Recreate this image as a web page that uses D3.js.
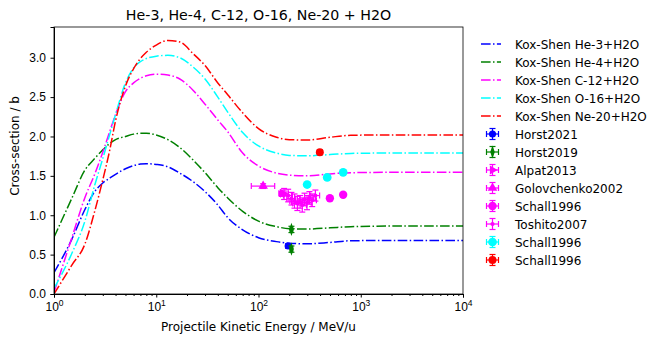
<!DOCTYPE html>
<html>
<head>
<meta charset="utf-8">
<script src="https://cdn.jsdelivr.net/npm/d3@7/dist/d3.min.js"></script>
<style>
body { margin: 0; background: #fff; }
svg { font-family: "DejaVu Sans", sans-serif; }
</style>
</head>
<body>
<svg id="chart" width="664" height="343"></svg>
<script>
// Kox-Shen model curves, energies in MeV/u, cross sections in barn
const koxEnergy = [1, 1.5, 2, 2.5, 3, 3.5, 4, 5, 6, 7, 8, 10, 13, 17, 23, 30, 40, 50, 70, 100, 150, 200, 300, 500, 800, 2000, 10000];
const he3Kox  = [0.27, 0.70, 1.07, 1.30, 1.41, 1.47, 1.52, 1.59, 1.63, 1.65, 1.655, 1.645, 1.615, 1.535, 1.425, 1.30, 1.13, 0.97, 0.815, 0.715, 0.665, 0.645, 0.637, 0.655, 0.676, 0.680, 0.68];
const he4Kox  = [0.72, 1.22, 1.57, 1.72, 1.83, 1.91, 1.96, 2.00, 2.03, 2.04, 2.04, 2.02, 1.96, 1.86, 1.70, 1.54, 1.35, 1.22, 1.05, 0.925, 0.855, 0.83, 0.825, 0.84, 0.855, 0.862, 0.862];
const c12Kox  = [0.02, 0.72, 1.22, 1.52, 1.80, 2.06, 2.28, 2.57, 2.68, 2.74, 2.77, 2.79, 2.78, 2.73, 2.585, 2.41, 2.21, 2.06, 1.79, 1.625, 1.535, 1.51, 1.50, 1.525, 1.54, 1.545, 1.545];
const o16Kox  = [0.07, 0.52, 0.92, 1.38, 1.72, 2.02, 2.28, 2.68, 2.87, 2.95, 2.99, 3.02, 3.03, 3.00, 2.88, 2.73, 2.50, 2.31, 2.05, 1.88, 1.79, 1.76, 1.755, 1.77, 1.785, 1.79, 1.79];
const ne20Kox = [0.00, 0.37, 0.63, 1.05, 1.45, 1.82, 2.20, 2.64, 2.86, 2.99, 3.07, 3.16, 3.22, 3.20, 3.05, 2.90, 2.68, 2.53, 2.30, 2.10, 1.99, 1.96, 1.955, 1.99, 2.015, 2.02, 2.02];

const curveNames = ["Kox-Shen He-3+H2O", "Kox-Shen He-4+H2O", "Kox-Shen C-12+H2O", "Kox-Shen O-16+H2O", "Kox-Shen Ne-20+H2O"];
const curveValues = [he3Kox, he4Kox, c12Kox, o16Kox, ne20Kox];
const curveColors = ["#0000ff", "#008000", "#ff00ff", "#00ffff", "#ff0000"];

// measurements: energy, cross section, y error, x error (low, high)
const horst2021E = [195], horst2021Cs = [0.61], horst2021Err = [0.03];
const horst2019E = [210, 210], horst2019Cs = [0.82, 0.57], horst2019Err = [0.04, 0.04];
const alpat2013E = [172], alpat2013Cs = [1.28], alpat2013Err = [0.04];
const golovE = [111], golovCs = [1.37], golovErr = [0.03], golovXLo = [85], golovXHi = [144];
const schallC12E = [499, 673], schallC12Cs = [1.215, 1.26], schallC12Err = [0.02, 0.02];
const toshitoE  = [178, 195, 210, 225, 240, 255, 268, 282, 298, 315, 335, 360];
const toshitoCs = [1.27, 1.25, 1.21, 1.18, 1.15, 1.17, 1.13, 1.20, 1.16, 1.22, 1.19, 1.25];
const toshitoErr = [0.07, 0.08, 0.08, 0.09, 0.09, 0.08, 0.09, 0.08, 0.09, 0.08, 0.08, 0.07];
const schallO16E = [299, 470, 673], schallO16Cs = [1.39, 1.48, 1.545], schallO16Err = [0.02, 0.02, 0.02];
const schallNe20E = [398], schallNe20Cs = [1.80], schallNe20Err = [0.03];

const yTicks = [0, 0.5, 1.0, 1.5, 2.0, 2.5, 3.0];
const xMajor = [1, 10, 100, 1000, 10000];

const svg = d3.select("#chart");
const mLeft = 54, mRight = 463, mTop = 27, mBottom = 294;

const x = d3.scaleLog().domain([1, 1e4]).range([mLeft, mRight]);
const y = d3.scaleLinear().domain([0, 3.39]).range([mBottom, mTop]);

// title and labels
svg.append("text").attr("x", (mLeft + mRight) / 2).attr("y", 19.5)
  .attr("text-anchor", "middle").attr("font-size", 14.2)
  .text("He-3, He-4, C-12, O-16, Ne-20 + H2O");
svg.append("text").attr("x", (mLeft + mRight) / 2).attr("y", 331)
  .attr("text-anchor", "middle").attr("font-size", 12)
  .text("Projectile Kinetic Energy / MeV/u");
svg.append("text").attr("transform", "translate(18.5,146) rotate(-90)")
  .attr("text-anchor", "middle").attr("font-size", 12)
  .text("Cross-section / b");

// clip
svg.append("clipPath").attr("id", "clip").append("rect")
  .attr("x", mLeft).attr("y", mTop).attr("width", mRight - mLeft).attr("height", mBottom - mTop);

const plot = svg.append("g").attr("clip-path", "url(#clip)");

// curves
const line = d3.line()
  .x((d, i) => x(koxEnergy[i]))
  .y(d => y(d))
  .curve(d3.curveMonotoneX);

curveValues.forEach((vals, k) => {
  plot.append("path")
    .attr("d", line(vals))
    .attr("fill", "none")
    .attr("stroke", curveColors[k])
    .attr("stroke-width", 1.5)
    .attr("stroke-dasharray", "9.6,2.4,1.5,2.4");
});

// markers
function markerPath(kind, size) {
  if (kind === "triangle" || kind === "right") return d3.symbol(d3.symbolTriangle, size)();
  if (kind === "diamond") return d3.symbol(d3.symbolDiamond, size)();
  return d3.symbol(d3.symbolCircle, size)();
}

function drawPoint(g, px, py, yLo, yHi, xLo, xHi, color, kind, size) {
  const cap = 3;
  if (yLo !== null) {
    g.append("line").attr("x1", px).attr("x2", px).attr("y1", yLo).attr("y2", yHi)
      .attr("stroke", color).attr("stroke-width", 1.2);
    [yLo, yHi].forEach(v => g.append("line").attr("x1", px - cap).attr("x2", px + cap)
      .attr("y1", v).attr("y2", v).attr("stroke", color).attr("stroke-width", 1.2));
  }
  if (xLo !== null) {
    g.append("line").attr("x1", xLo).attr("x2", xHi).attr("y1", py).attr("y2", py)
      .attr("stroke", color).attr("stroke-width", 1.2);
    [xLo, xHi].forEach(v => g.append("line").attr("x1", v).attr("x2", v)
      .attr("y1", py - cap).attr("y2", py + cap).attr("stroke", color).attr("stroke-width", 1.2));
  }
  let tr = "translate(" + px + "," + py + ")";
  if (kind === "diamond") tr += " scale(0.6,1)";
  if (kind === "right") tr += " rotate(90)";
  g.append("path").attr("d", markerPath(kind, size)).attr("transform", tr).attr("fill", color);
}

function drawSet(es, cs, errs, color, kind, size, xlo, xhi, xfrac) {
  es.forEach((e, i) => {
    let xl = null, xh = null;
    if (xlo) { xl = x(xlo[i]); xh = x(xhi[i]); }
    else if (xfrac) { xl = x(e * (1 - xfrac)); xh = x(e * (1 + xfrac)); }
    drawPoint(plot, x(e), y(cs[i]), y(cs[i] - errs[i]), y(cs[i] + errs[i]), xl, xh, color, kind, size);
  });
}

drawSet(horst2021E, horst2021Cs, horst2021Err, "#0000ff", "circle", 40, null, null, 0.03);
drawSet(horst2019E, horst2019Cs, horst2019Err, "#008000", "diamond", 50, null, null, 0.03);
drawSet(alpat2013E, alpat2013Cs, alpat2013Err, "#ff00ff", "right", 35, null, null, 0.08);
drawSet(golovE, golovCs, golovErr, "#ff00ff", "triangle", 40, golovXLo, golovXHi);
drawSet(toshitoE, toshitoCs, toshitoErr, "#ff00ff", "circle", 14, null, null, 0.1);
drawSet(schallC12E, schallC12Cs, schallC12Err, "#ff00ff", "circle", 55, null, null, 0);
drawSet(schallO16E, schallO16Cs, schallO16Err, "#00ffff", "circle", 60, null, null, 0);
drawSet(schallNe20E, schallNe20Cs, schallNe20Err, "#ff0000", "circle", 50, null, null, 0.03);

// axes
const xAxis = svg.append("g").attr("transform", "translate(0," + mBottom + ")")
  .call(d3.axisBottom(x).tickValues(xMajor).tickSize(3.5).tickFormat(""));
xAxis.selectAll(".tick").append("text")
  .attr("y", 17).attr("fill", "#000").attr("text-anchor", "middle").attr("font-size", 12)
  .each(function(d) {
    const t = d3.select(this);
    t.append("tspan").text("10");
    t.append("tspan").attr("dy", -5.5).attr("font-size", 8.5).text(Math.round(Math.log10(d)));
  });
const minors = [];
for (let dec = 1; dec < 1e4; dec *= 10) for (let m = 2; m <= 9; m++) minors.push(dec * m);
svg.append("g").attr("transform", "translate(0," + mBottom + ")")
  .call(d3.axisBottom(x).tickValues(minors).tickSize(2).tickFormat(""))
  .select(".domain").remove();

svg.append("g").attr("transform", "translate(" + mLeft + ",0)")
  .call(d3.axisLeft(y).tickValues(yTicks).tickSize(3.5).tickPadding(4.5).tickFormat(d3.format(".1f")))
  .selectAll("text").attr("font-size", 12).attr("fill", "#000");

svg.selectAll(".domain").attr("stroke", "#000");
svg.append("rect").attr("x", mLeft).attr("y", mTop).attr("width", mRight - mLeft).attr("height", mBottom - mTop)
  .attr("fill", "none").attr("stroke", "#000").attr("stroke-width", 0.8);

// legend
const legend = svg.append("g");
const legX = 481, legY = 44, legStep = 18;
curveNames.forEach((name, k) => {
  const ly = legY + k * legStep;
  legend.append("line").attr("x1", legX).attr("x2", legX + 20).attr("y1", ly).attr("y2", ly)
    .attr("stroke", curveColors[k]).attr("stroke-width", 1.5).attr("stroke-dasharray", "9.6,2.4,1.5,2.4");
  legend.append("text").attr("x", 515).attr("y", ly + 4.5).attr("font-size", 12).text(name);
});
const pointNames = ["Horst2021", "Horst2019", "Alpat2013", "Golovchenko2002", "Schall1996", "Toshito2007", "Schall1996", "Schall1996"];
const pointColors = ["#0000ff", "#008000", "#ff00ff", "#ff00ff", "#ff00ff", "#ff00ff", "#00ffff", "#ff0000"];
const pointKinds = ["circle", "diamond", "right", "triangle", "circle", "circle", "circle", "circle"];
const pointSizes = [40, 50, 35, 40, 55, 14, 60, 50];
pointNames.forEach((name, k) => {
  const ly = legY + (k + 5) * legStep;
  const cx = 492.5;
  drawPoint(legend, cx, ly, ly - 5.5, ly + 5.5, cx - 6, cx + 6, pointColors[k], pointKinds[k], pointSizes[k]);
  legend.append("text").attr("x", 515).attr("y", ly + 4.5).attr("font-size", 12).text(name);
});
</script>
</body>
</html>
